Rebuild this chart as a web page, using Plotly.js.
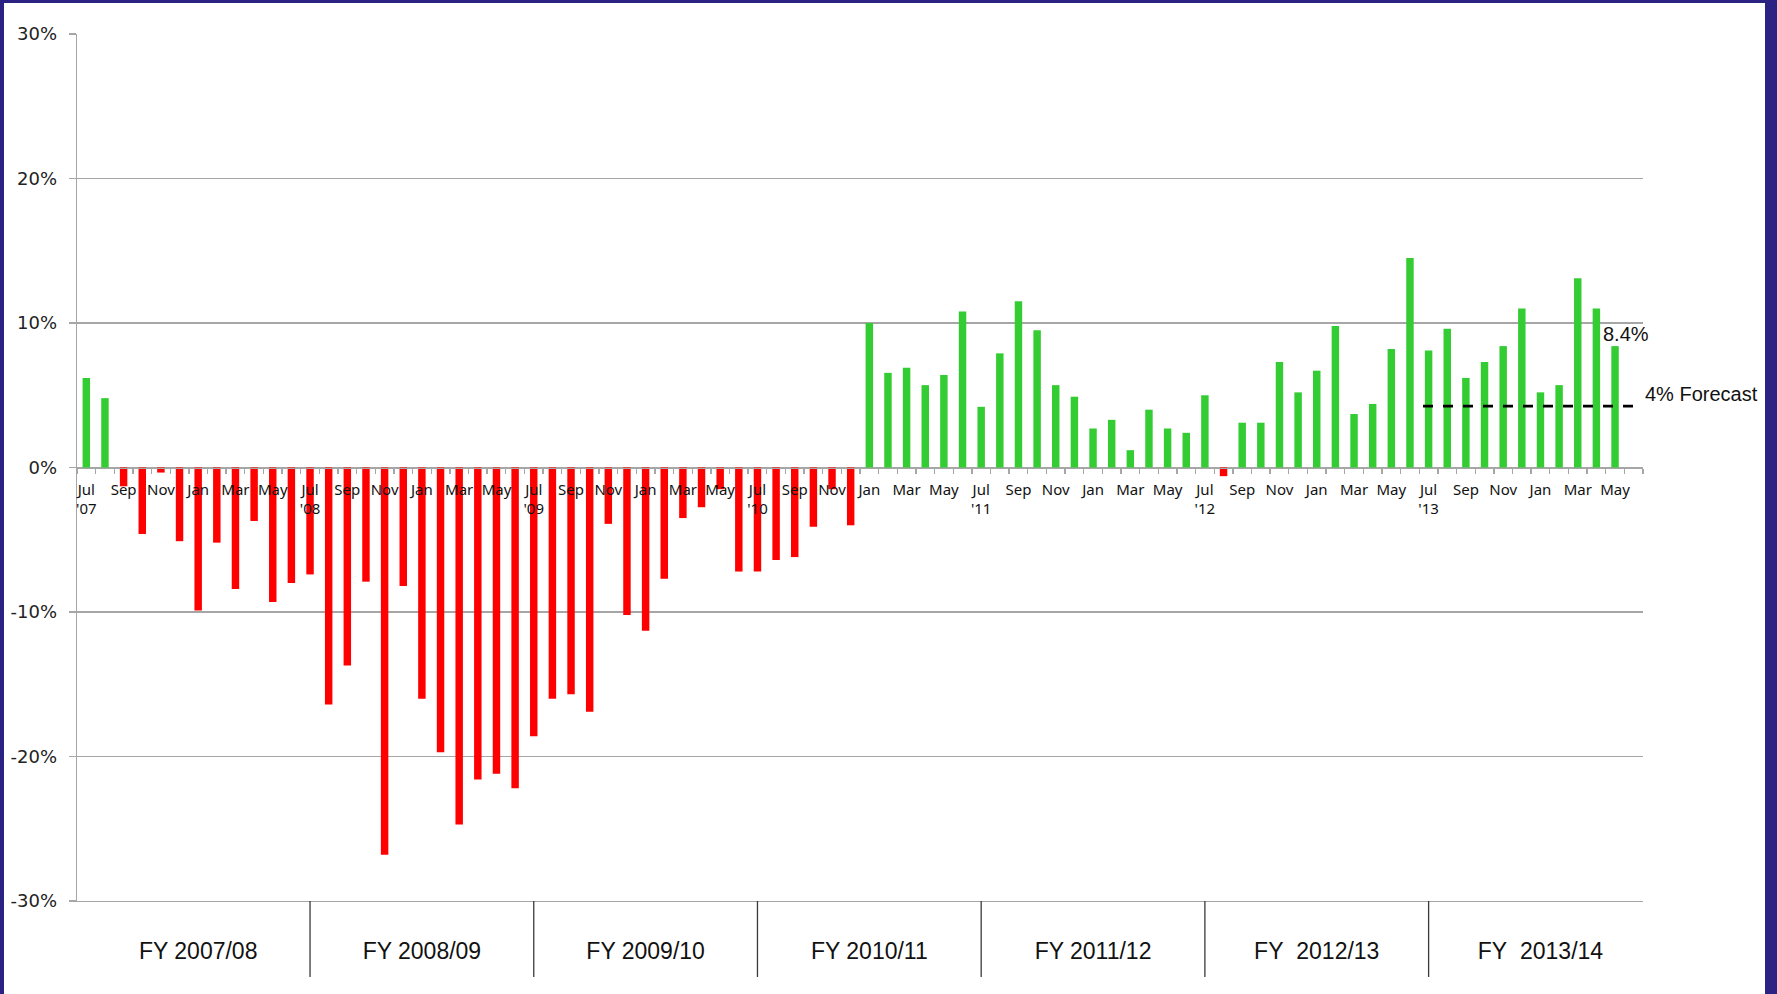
<!DOCTYPE html>
<html><head><meta charset="utf-8">
<script src="https://cdn.plot.ly/plotly-3.0.1.min.js"></script>
<style>
html,body{margin:0;padding:0;background:#fff;}
#wrap{position:relative;width:1777px;height:994px;overflow:hidden;}
#chart{position:absolute;left:0;top:0;width:1777px;height:994px;}
.b{position:absolute;background:#2c2283;}
</style></head><body>
<div id="wrap"><div id="chart"></div>
<div class="b" style="left:0;top:0;width:4px;height:994px"></div>
<div class="b" style="left:0;top:0;width:1777px;height:3px"></div>
<div class="b" style="left:1765px;top:0;width:12px;height:994px"></div>
</div>
<script>
const months = [
 'Jul 2007','Aug 2007','Sep 2007','Oct 2007','Nov 2007','Dec 2007','Jan 2008','Feb 2008','Mar 2008','Apr 2008','May 2008','Jun 2008',
 'Jul 2008','Aug 2008','Sep 2008','Oct 2008','Nov 2008','Dec 2008','Jan 2009','Feb 2009','Mar 2009','Apr 2009','May 2009','Jun 2009',
 'Jul 2009','Aug 2009','Sep 2009','Oct 2009','Nov 2009','Dec 2009','Jan 2010','Feb 2010','Mar 2010','Apr 2010','May 2010','Jun 2010',
 'Jul 2010','Aug 2010','Sep 2010','Oct 2010','Nov 2010','Dec 2010','Jan 2011','Feb 2011','Mar 2011','Apr 2011','May 2011','Jun 2011',
 'Jul 2011','Aug 2011','Sep 2011','Oct 2011','Nov 2011','Dec 2011','Jan 2012','Feb 2012','Mar 2012','Apr 2012','May 2012','Jun 2012',
 'Jul 2012','Aug 2012','Sep 2012','Oct 2012','Nov 2012','Dec 2012','Jan 2013','Feb 2013','Mar 2013','Apr 2013','May 2013','Jun 2013',
 'Jul 2013','Aug 2013','Sep 2013','Oct 2013','Nov 2013','Dec 2013','Jan 2014','Feb 2014','Mar 2014','Apr 2014','May 2014'
];
const growth = [
 6.2, 4.8, -1.3, -4.6, -0.35, -5.1, -9.9, -5.2, -8.4, -3.7, -9.3, -8.0,
 -7.4, -16.4, -13.7, -7.9, -26.8, -8.2, -16.0, -19.7, -24.7, -21.6, -21.2, -22.2,
 -18.6, -16.0, -15.7, -16.9, -3.9, -10.2, -11.3, -7.7, -3.5, -2.75, -1.5, -7.2,
 -7.2, -6.4, -6.2, -4.1, -1.5, -4.0, 10.0, 6.55, 6.9, 5.7, 6.4, 10.8,
 4.2, 7.9, 11.5, 9.5, 5.7, 4.9, 2.7, 3.3, 1.2, 4.0, 2.7, 2.4,
 5.0, -0.6, 3.1, 3.1, 7.3, 5.2, 6.7, 9.8, 3.7, 4.4, 8.2, 14.5,
 8.1, 9.6, 6.2, 7.3, 8.4, 11.0, 5.2, 5.7, 13.1, 11.0, 8.4
];
const tickLabels = [
 "Jul<br>'07",'Sep','Nov','Jan','Mar','May',
 "Jul<br>'08",'Sep','Nov','Jan','Mar','May',
 "Jul<br>'09",'Sep','Nov','Jan','Mar','May',
 "Jul<br>'10",'Sep','Nov','Jan','Mar','May',
 "Jul<br>'11",'Sep','Nov','Jan','Mar','May',
 "Jul<br>'12",'Sep','Nov','Jan','Mar','May',
 "Jul<br>'13",'Sep','Nov','Jan','Mar','May'
];
const yTickValues = [-30, -20, -10, 0, 10, 20, 30];
const yTickLabels = ['-30%', '-20%', '-10%', '0%', '10%', '20%', '30%'];
const fyLabels = ['FY 2007/08','FY 2008/09','FY 2009/10','FY 2010/11','FY 2011/12','FY\u00a0 2012/13','FY\u00a0 2013/14'];
const forecastValue = 4.25;
const forecastLabel = '4% Forecast';
const forecastStart = 'Jul 2013';

const nSlots = fyLabels.length * 12;
const xIdx = growth.map((_, i) => i);
const xr = [-0.5, nSlots - 0.5];
const colors = growth.map(v => v >= 0 ? '#33cc33' : '#ff0000');
const tickvals = tickLabels.map((_, k) => k * 2);
const boundaries = [];
for (let i = 0; i <= nSlots; i++) boundaries.push(i - 0.5);
const fyCenters = fyLabels.map((_, k) => 12 * k + 6);
const fStart = months.indexOf(forecastStart) - 0.3;
const fEnd = nSlots - 1;
const last = growth.length - 1;

const plotH = 994 - 34 - 93;
const shapes = fyLabels.slice(1).map((_, k) => ({
  type: 'line', xref: 'x', yref: 'paper',
  x0: 12 * (k + 1), x1: 12 * (k + 1), y0: 0, y1: -76 / plotH,
  line: {color: '#3a3a3a', width: 1.3}
}));

const traces = [
  {type: 'bar', x: xIdx, y: growth, marker: {color: colors, line: {width: 0}},
   hoverinfo: 'skip', showlegend: false},
  {type: 'scatter', mode: 'lines', x: [fStart, fEnd], y: [forecastValue, forecastValue],
   line: {color: '#000', width: 2.6, dash: '10px,10px'}, hoverinfo: 'skip', showlegend: false},
  {type: 'scatter', mode: 'markers', x: fyCenters, y: fyCenters.map(() => null), xaxis: 'x2',
   marker: {opacity: 0}, hoverinfo: 'skip', showlegend: false}
];

const layout = {
  width: 1777, height: 994,
  margin: {l: 77, r: 134, t: 34, b: 93, pad: 0},
  paper_bgcolor: '#ffffff', plot_bgcolor: '#ffffff',
  showlegend: false,
  bargap: 0.6,
  xaxis: {
    range: xr, anchor: 'free', position: 0.5,
    showline: true, linecolor: '#a6a6a6', linewidth: 1.3,
    showgrid: false, zeroline: false,
    tickmode: 'array', tickvals: tickvals, ticktext: tickLabels, ticks: '',
    tickfont: {family: 'Noto Sans, Open Sans, sans-serif', size: 15, color: '#111'},
    ticklabelstandoff: 8,
    minor: {tickmode: 'array', tickvals: boundaries, ticks: 'outside', ticklen: 5,
            tickcolor: '#a6a6a6', tickwidth: 1.3, showgrid: false},
    fixedrange: true
  },
  xaxis2: {
    range: xr, overlaying: 'x', anchor: 'y', side: 'bottom',
    showline: true, linecolor: '#a6a6a6', linewidth: 1.3,
    showgrid: false, zeroline: false,
    tickmode: 'array', tickvals: fyCenters, ticktext: fyLabels, ticks: '',
    tickfont: {family: 'Liberation Sans, Arial, sans-serif', size: 23, color: '#111'},
    ticklabelstandoff: 29, fixedrange: true
  },
  yaxis: {
    range: [-30, 30], domain: [0, 1],
    tickmode: 'array', tickvals: yTickValues, ticktext: yTickLabels,
    showgrid: true, gridcolor: '#a6a6a6', gridwidth: 1.3,
    zeroline: false, showline: true, linecolor: '#a6a6a6', linewidth: 1.3,
    ticks: 'outside', ticklen: 7, tickcolor: '#a6a6a6', tickwidth: 1.3,
    tickfont: {family: 'DejaVu Sans, Verdana, sans-serif', size: 18, color: '#222'},
    ticklabelstandoff: 8, fixedrange: true
  },
  shapes: shapes,
  annotations: [
    {x: last, y: growth[last], xref: 'x', yref: 'y', text: growth[last].toFixed(1) + '%',
     showarrow: false, xanchor: 'center', yanchor: 'bottom', xshift: 11, yshift: -1,
     font: {family: 'Liberation Sans, Arial, sans-serif', size: 20, color: '#111'}},
    {x: fEnd, y: forecastValue, xref: 'x', yref: 'y', text: forecastLabel,
     showarrow: false, xanchor: 'left', yanchor: 'middle', xshift: 9, yshift: 12,
     font: {family: 'Liberation Sans, Arial, sans-serif', size: 20, color: '#111'}}
  ]
};

Plotly.newPlot('chart', traces, layout, {displayModeBar: false, staticPlot: true});
</script>
</body></html>
